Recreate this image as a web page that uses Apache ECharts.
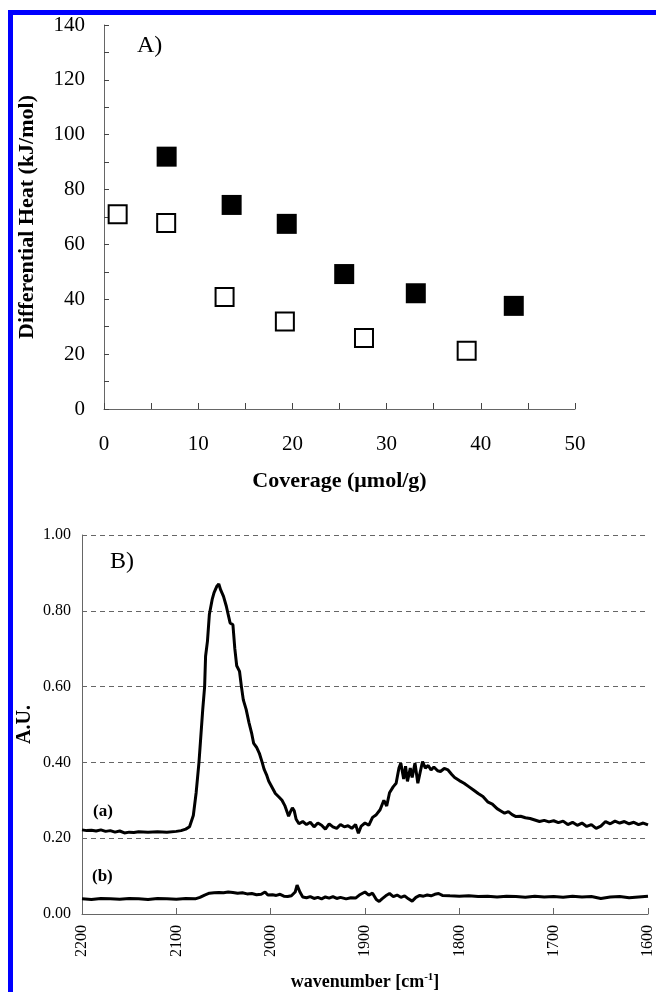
<!DOCTYPE html>
<html><head><meta charset="utf-8">
<script src="https://cdn.jsdelivr.net/npm/echarts@6/dist/echarts.min.js"></script>
<style>html,body{margin:0;padding:0;background:#fff}#c{width:656px;height:992px}</style>
</head><body><div id="c"></div>
<script>
// Panel A: differential heat vs coverage
const filledA = [[6.65,92.0],[13.55,74.4],[19.4,67.5],[25.5,49.2],[33.1,42.2],[43.5,37.6]];
const openA = [[1.45,71.0],[6.6,67.8],[12.8,40.8],[19.2,31.9],[27.6,25.9],[38.5,21.2]];
const xTicksA = [0,10,20,30,40,50];
const yTicksA = [0,20,40,60,80,100,120,140];
// Panel B: IR spectra (wavenumber, A.U.)
const specA = [
[2200,0.222],[2195,0.220],[2190,0.221],[2185,0.219],[2180,0.222],[2175,0.218],[2170,0.220],[2165,0.216],[2160,0.219],[2155,0.214],
[2150,0.216],[2145,0.215],[2140,0.217],[2130,0.216],[2120,0.217],[2110,0.216],[2100,0.218],[2095,0.220],[2090,0.224],[2086,0.230],
[2082,0.260],[2079,0.320],[2076,0.400],[2074,0.470],[2072,0.540],[2070,0.600],[2069,0.680],[2067,0.720],[2065,0.790],[2062,0.830],
[2060,0.848],[2057,0.865],[2055,0.871],[2053,0.855],[2050,0.838],[2047,0.812],[2045,0.790],[2043,0.768],[2040,0.763],[2038,0.700],
[2036,0.655],[2033,0.640],[2031,0.600],[2029,0.565],[2026,0.540],[2023,0.505],[2020,0.475],[2018,0.450],[2015,0.440],[2012,0.424],
[2009,0.400],[2007,0.382],[2004,0.365],[2002,0.350],[1998,0.332],[1995,0.318],[1991,0.308],[1988,0.300],[1985,0.286],[1983,0.290],
[1981,0.258],[1979,0.270],[1977,0.280],[1975,0.272],[1973,0.250],[1970,0.238],[1966,0.244],[1962,0.236],[1958,0.242],[1954,0.230],
[1950,0.240],[1946,0.234],[1942,0.224],[1938,0.238],[1934,0.230],[1930,0.226],[1926,0.236],[1922,0.230],[1918,0.233],[1914,0.226],
[1910,0.236],[1907,0.213],[1904,0.232],[1900,0.240],[1896,0.234],[1892,0.255],[1888,0.262],[1884,0.275],[1880,0.300],[1877,0.285],
[1874,0.320],[1870,0.336],[1867,0.345],[1864,0.385],[1862,0.398],[1859,0.356],[1857,0.390],[1855,0.350],[1852,0.385],[1850,0.360],
[1847,0.398],[1844,0.345],[1841,0.380],[1839,0.402],[1836,0.385],[1833,0.392],[1830,0.380],[1827,0.388],[1823,0.378],[1820,0.376],
[1816,0.384],[1812,0.380],[1808,0.368],[1805,0.360],[1800,0.352],[1795,0.345],[1790,0.336],[1785,0.327],[1780,0.318],[1775,0.310],
[1770,0.296],[1765,0.290],[1760,0.278],[1756,0.272],[1752,0.266],[1748,0.270],[1744,0.262],[1740,0.257],[1735,0.258],[1730,0.254],
[1725,0.252],[1720,0.248],[1715,0.244],[1710,0.247],[1705,0.243],[1700,0.246],[1695,0.241],[1690,0.245],[1685,0.236],[1680,0.242],
[1675,0.234],[1670,0.240],[1665,0.231],[1660,0.236],[1655,0.226],[1650,0.232],[1645,0.244],[1640,0.238],[1635,0.245],[1630,0.240],
[1625,0.244],[1620,0.238],[1615,0.242],[1610,0.236],[1605,0.240],[1600,0.235]];
const specB = [
[2200,0.040],[2190,0.038],[2180,0.041],[2170,0.040],[2160,0.039],[2150,0.041],[2140,0.040],[2130,0.038],[2120,0.041],[2110,0.040],
[2100,0.039],[2090,0.041],[2080,0.040],[2075,0.044],[2070,0.050],[2065,0.055],[2060,0.056],[2055,0.057],[2050,0.056],[2045,0.058],
[2040,0.057],[2035,0.055],[2030,0.056],[2025,0.053],[2020,0.054],[2015,0.051],[2010,0.052],[2006,0.058],[2003,0.050],[1998,0.051],
[1994,0.049],[1990,0.052],[1986,0.047],[1982,0.046],[1978,0.048],[1974,0.058],[1972,0.076],[1969,0.058],[1966,0.045],[1962,0.043],
[1958,0.046],[1954,0.041],[1950,0.044],[1946,0.040],[1942,0.045],[1938,0.042],[1934,0.046],[1930,0.041],[1926,0.044],[1920,0.040],
[1915,0.043],[1910,0.042],[1906,0.050],[1900,0.058],[1896,0.050],[1892,0.055],[1888,0.038],[1885,0.033],[1882,0.040],[1878,0.048],
[1874,0.054],[1870,0.046],[1866,0.050],[1862,0.044],[1858,0.048],[1854,0.040],[1850,0.034],[1846,0.044],[1842,0.049],[1838,0.047],
[1834,0.050],[1830,0.048],[1826,0.052],[1822,0.054],[1818,0.049],[1810,0.048],[1800,0.047],[1790,0.048],[1780,0.046],[1770,0.047],
[1760,0.045],[1750,0.047],[1740,0.046],[1730,0.044],[1720,0.047],[1710,0.045],[1700,0.046],[1690,0.044],[1680,0.047],[1670,0.045],
[1660,0.046],[1650,0.041],[1640,0.045],[1630,0.046],[1620,0.043],[1610,0.045],[1600,0.047]];
const xTicksB = [2200,2100,2000,1900,1800,1700,1600];
const yTicksB = [0,0.2,0.4,0.6,0.8,1.0];

const serif = 'Liberation Serif';
const chart = echarts.init(document.getElementById('c'), null, {renderer:'canvas'});
chart.setOption({
  animation:false,
  backgroundColor:'#fff',
  graphic:[
    {type:'rect', shape:{x:8,y:10,width:648,height:5}, style:{fill:'#0000ff'}, z:100},
    {type:'rect', shape:{x:8,y:10,width:5,height:982}, style:{fill:'#0000ff'}, z:100},
    {type:'text', left:137, top:34, style:{text:'A)', font:'24px "Liberation Serif"', fill:'#000'}},
    {type:'text', left:110, top:550, style:{text:'B)', font:'24px "Liberation Serif"', fill:'#000'}},
    {type:'text', left:93, top:803, style:{text:'(a)', font:'bold 17px "Liberation Serif"', fill:'#000'}},
    {type:'text', left:92, top:868, style:{text:'(b)', font:'bold 17px "Liberation Serif"', fill:'#000'}}
  ],
  grid:[
    {left:104, top:25, width:471, height:384},
    {left:82, top:535, width:570, height:379}
  ],
  xAxis:[
    {gridIndex:0, type:'value', min:xTicksA[0], max:xTicksA[xTicksA.length-1], interval:5,
     axisLine:{lineStyle:{color:'#666',width:1}},
     axisTick:{inside:true, length:6, lineStyle:{color:'#444'}},
     splitLine:{show:false},
     axisLabel:{margin:25, fontFamily:serif, fontSize:21, color:'#000',
       formatter:v=>xTicksA.includes(v)?String(v):''},
     name:'Coverage (μmol/g)', nameLocation:'middle', nameGap:61, nameMoveOverlap:false,
     nameTextStyle:{fontFamily:serif, fontWeight:'bold', fontSize:22, color:'#000'}},
    {gridIndex:1, type:'value', min:1600, max:2200, interval:100, inverse:true,
     axisLine:{onZero:false, lineStyle:{color:'#666',width:1}},
     axisTick:{inside:true, length:6, lineStyle:{color:'#666'}},
     splitLine:{show:false},
     axisLabel:{margin:11, rotate:90, fontFamily:serif, fontSize:16, color:'#000',
       formatter:v=>xTicksB.includes(v)?String(v):''},
     name:'wavenumber [cm{sup|-1}]', nameLocation:'middle', nameGap:58, nameMoveOverlap:false,
     nameTextStyle:{fontFamily:serif, fontWeight:'bold', fontSize:18, color:'#000',
       rich:{sup:{fontFamily:serif, fontWeight:'bold', fontSize:11, verticalAlign:'top', padding:[0,0,9,0], color:'#000'}}}}
  ],
  yAxis:[
    {gridIndex:0, type:'value', min:0, max:140, interval:10,
     axisLine:{show:true, lineStyle:{color:'#666',width:1}},
     axisTick:{show:true, inside:true, length:5, lineStyle:{color:'#444'}},
     splitLine:{show:false},
     axisLabel:{margin:19, fontFamily:serif, fontSize:21, color:'#000',
       formatter:v=>yTicksA.includes(v)?String(v):''},
     name:'Differential Heat (kJ/mol)', nameLocation:'middle', nameGap:66, nameMoveOverlap:false,
     nameTextStyle:{fontFamily:serif, fontWeight:'bold', fontSize:22, color:'#000'}},
    {gridIndex:1, type:'value', min:0, max:1, interval:0.2,
     axisLine:{show:true, lineStyle:{color:'#666',width:1}},
     axisTick:{show:false},
     splitLine:{show:true, lineStyle:{color:'#666', type:[5,4], width:1}},
     axisLabel:{margin:11, fontFamily:serif, fontSize:16, color:'#000',
       formatter:v=>v.toFixed(2)},
     name:'A.U.', nameLocation:'middle', nameGap:47, nameMoveOverlap:false,
     nameTextStyle:{fontFamily:serif, fontWeight:'bold', fontSize:20, color:'#000'}}
  ],
  series:[
    {type:'scatter', xAxisIndex:0, yAxisIndex:0, data:openA, symbol:'rect', symbolSize:18,
     itemStyle:{color:'#fff', borderColor:'#000', borderWidth:2, opacity:1}},
    {type:'scatter', xAxisIndex:0, yAxisIndex:0, data:filledA, symbol:'rect', symbolSize:20,
     itemStyle:{color:'#000', opacity:1}},
    {type:'line', xAxisIndex:1, yAxisIndex:1, data:specA, showSymbol:false, symbol:'none',
     lineStyle:{color:'#000', width:3}},
    {type:'line', xAxisIndex:1, yAxisIndex:1, data:specB, showSymbol:false, symbol:'none',
     lineStyle:{color:'#000', width:3}}
  ]
});
</script></body></html>
